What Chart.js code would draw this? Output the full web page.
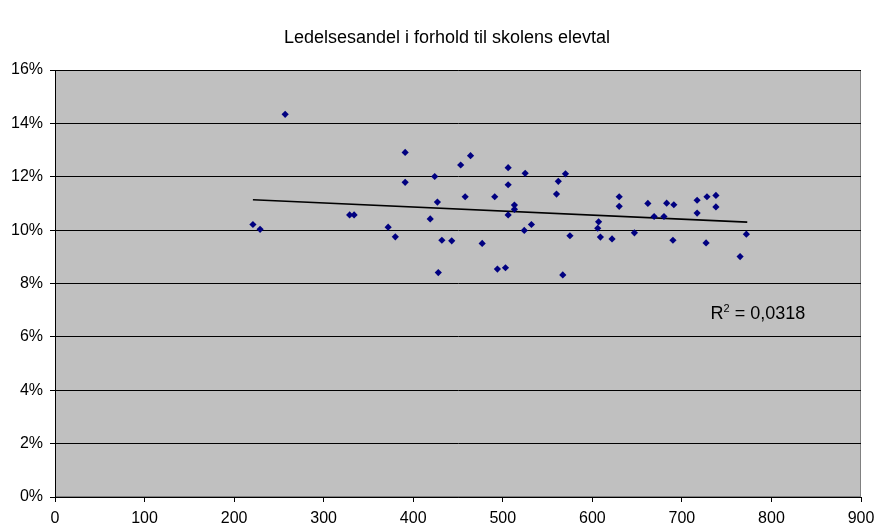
<!DOCTYPE html>
<html>
<head>
<meta charset="utf-8">
<script src="https://cdn.jsdelivr.net/npm/chart.js@4/dist/chart.umd.min.js"></script>
<style>
    html, body { margin: 0; padding: 0; background: #ffffff; }
    #wrap { width: 877px; height: 529px; }
</style>
</head>
<body>
<div id="wrap"><canvas id="scatter"></canvas></div>
<script>
"use strict";

// elevtal (x) og ledelsesandel i procent (y)
const elevtal = [221, 229, 257, 329, 334, 372, 380, 391, 391, 419,
    424, 427, 428, 432, 443, 453, 458, 464, 477, 491,
    494, 503, 506, 506, 506, 513, 513, 524, 525, 532,
    560, 562, 567, 570, 575, 607, 606, 609, 622, 630,
    630, 647, 662, 669, 680, 683, 690, 691, 717, 717,
    727, 728, 738, 738, 765, 772];
const ledelsesandel = [10.21, 10.03, 14.34, 10.57, 10.57, 10.11, 9.75, 12.91, 11.79, 10.42,
    12.01, 11.05, 8.41, 9.62, 9.60, 12.44, 11.25, 12.79, 9.50, 11.25,
    8.54, 8.59, 12.34, 11.70, 10.57, 10.94, 10.78, 9.99, 12.13, 10.21,
    11.35, 11.83, 8.32, 12.11, 9.79, 10.31, 10.07, 9.74, 9.67, 11.25,
    10.89, 9.90, 11.00, 10.51, 10.51, 11.01, 9.62, 10.95, 11.12, 10.64,
    9.52, 11.25, 11.30, 10.87, 9.01, 9.85];

// tendenslinjens endepunkter
const trendX = [221, 773];
const trendY = [11.14, 10.30];
const rSquared = "0,0318";

const titleText = "Ledelsesandel i forhold til skolens elevtal";
const fontFamily = "'Liberation Sans', Arial, sans-serif";

window.onload = () => {
    drawChart();
}

/**
 * plugin der tegner den grå baggrund og rammen om plotområdet
 */
const plotBackground = {
    id: "plotBackground",
    beforeDraw(chart) {
        const { ctx, chartArea: a } = chart;
        ctx.save();
        ctx.fillStyle = "#C0C0C0";
        ctx.fillRect(a.left, a.top, a.right - a.left, a.bottom - a.top);
        ctx.strokeStyle = "#808080";
        ctx.lineWidth = 1;
        ctx.strokeRect(a.left + 0.5, a.top + 0.5, a.right - a.left - 1, a.bottom - a.top - 1);
        ctx.restore();
    }
};

/**
 * plugin der skriver titlen og R² teksten
 */
const textLabels = {
    id: "textLabels",
    afterDatasetsDraw(chart) {
        const { ctx, scales } = chart;
        ctx.save();
        ctx.fillStyle = "#000000";
        ctx.textBaseline = "middle";
        ctx.textAlign = "center";
        ctx.font = "18px " + fontFamily;
        ctx.fillText(titleText, 447, 38);

        const x = scales.x.getPixelForValue(732);
        const y = scales.y.getPixelForValue(6.68);
        ctx.textBaseline = "alphabetic";
        ctx.textAlign = "left";
        ctx.fillText("R", x, y);
        let w = ctx.measureText("R").width;
        ctx.font = "11px " + fontFamily;
        ctx.fillText("2", x + w, y - 7);
        w += ctx.measureText("2").width;
        ctx.font = "18px " + fontFamily;
        ctx.fillText(" = " + rSquared, x + w, y);
        ctx.restore();
    }
};

function drawChart() {
    const ctx = document.getElementById("scatter");
    Chart.defaults.color = "#000000";
    Chart.defaults.font.family = fontFamily;
    Chart.defaults.font.size = 16;

    new Chart(ctx, {
        type: "scatter",
        data: {
            datasets: [{
                label: "Ledelsesandel",
                data: elevtal.map((x, i) => ({ x: x, y: ledelsesandel[i] })),
                pointStyle: "rectRot",
                pointRadius: 3.6,
                pointHoverRadius: 3.6,
                backgroundColor: "#000080",
                borderColor: "#000080",
                borderWidth: 0
            }, {
                label: "Tendens",
                type: "line",
                data: trendX.map((x, i) => ({ x: x, y: trendY[i] })),
                borderColor: "#000000",
                borderWidth: 1.6,
                pointRadius: 0,
                fill: false
            }]
        },
        options: {
            responsive: true,
            maintainAspectRatio: false,
            animation: false,
            layout: {
                padding: { left: 0, right: 16, top: 70, bottom: 0 }
            },
            plugins: {
                legend: { display: false },
                tooltip: { enabled: false },
                title: { display: false }
            },
            scales: {
                x: {
                    type: "linear",
                    min: 0,
                    max: 900,
                    ticks: { stepSize: 100, padding: 7, maxRotation: 0 },
                    grid: {
                        drawOnChartArea: false,
                        drawTicks: true,
                        tickLength: 5,
                        color: "#000000"
                    },
                    border: { color: "#000000" },
                    afterFit: (scale) => {
                        scale.height = 32;
                        scale.paddingLeft = 0;
                        scale.paddingRight = 0;
                    }
                },
                y: {
                    min: 0,
                    max: 16,
                    ticks: {
                        stepSize: 2,
                        padding: 7,
                        callback: (value) => value + "%"
                    },
                    grid: {
                        color: "#000000",
                        tickLength: 5,
                        drawTicks: true
                    },
                    border: { color: "#000000" },
                    afterFit: (scale) => { scale.width = 55; }
                }
            }
        },
        plugins: [plotBackground, textLabels]
    });
}
</script>
</body>
</html>
